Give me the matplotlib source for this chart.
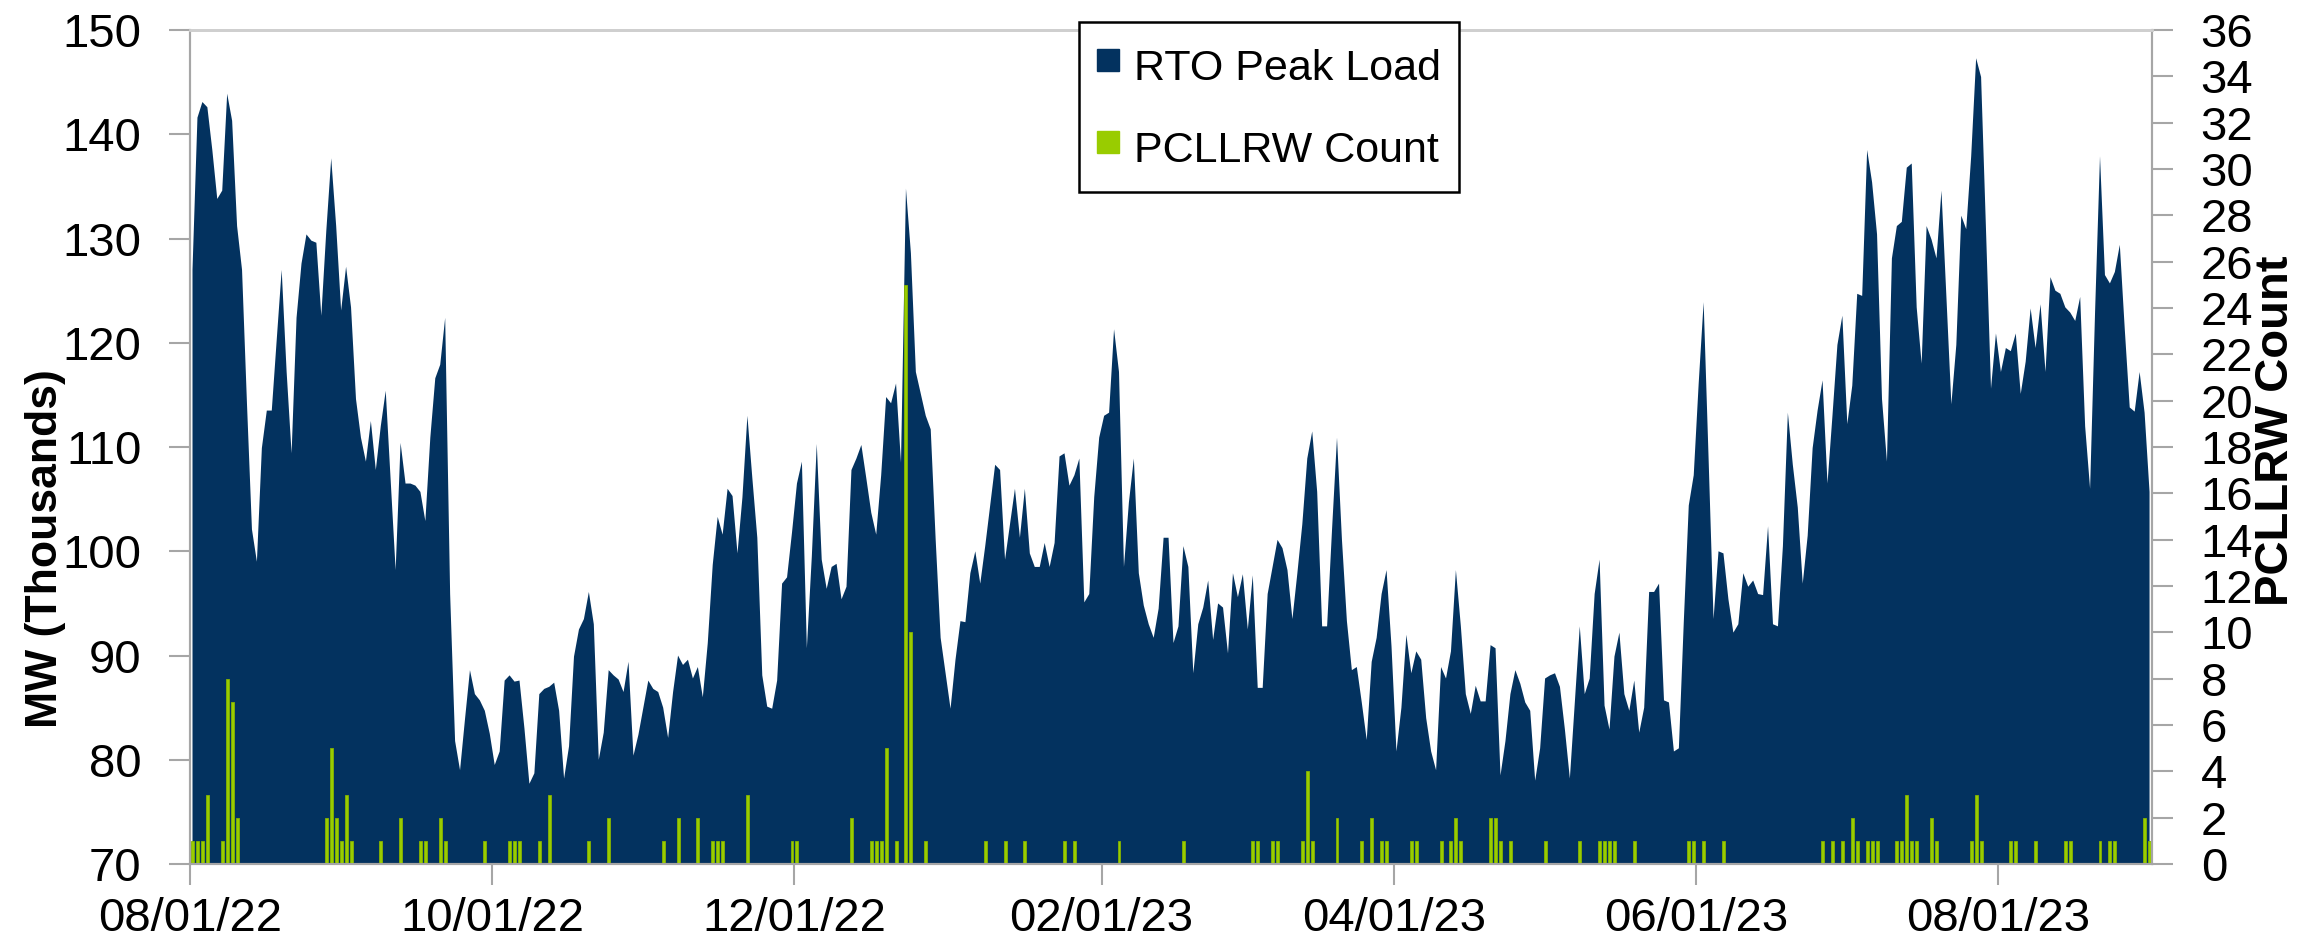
import numpy as np
import pandas as pd
import matplotlib
matplotlib.use('Agg')
import matplotlib.pyplot as plt
import matplotlib.dates as mdates
from matplotlib.lines import Line2D

plt.rcParams['font.family'] = ['Liberation Sans', 'DejaVu Sans']

start_date = '2022-08-01'

# daily RTO peak load (MW, thousands), 08/01/22 .. 08/31/23
rto_peak_load = [
    127.0, 141.6, 143.1, 142.6, 138.5, 133.8, 134.6, 143.9, 141.3, 131.2,
    127.0, 114.1, 102.1, 99.0, 109.9, 113.5, 113.5, 120.3, 127.0, 117.2,
    109.4, 122.4, 127.6, 130.4, 129.8, 129.6, 122.6, 130.7, 137.7, 131.2,
    123.1, 127.3, 123.4, 114.6, 110.9, 108.6, 112.5, 107.8, 112.0, 115.4,
    106.8, 98.2, 110.4, 106.5, 106.5, 106.3, 105.7, 102.9, 110.9, 116.6,
    117.9, 122.4, 95.9, 81.8, 79.0, 83.9, 88.6, 86.3, 85.7, 84.7,
    82.5, 79.5, 80.8, 87.6, 88.1, 87.5, 87.6, 83.0, 77.7, 78.7,
    86.3, 86.8, 87.0, 87.4, 84.7, 78.2, 81.3, 89.9, 92.5, 93.5,
    96.1, 93.0, 80.0, 82.6, 88.6, 88.1, 87.7, 86.5, 89.4, 80.4,
    82.4, 85.0, 87.6, 86.8, 86.5, 85.0, 82.1, 86.5, 90.0, 89.1,
    89.6, 87.8, 88.9, 86.0, 91.2, 98.7, 103.3, 101.6, 106.0, 105.3,
    99.8, 105.2, 113.0, 107.0, 101.3, 88.1, 85.1, 84.9, 87.6, 96.9,
    97.5, 101.8, 106.5, 108.6, 90.7, 99.5, 110.3, 99.2, 96.4, 98.5,
    98.8, 95.4, 96.6, 107.8, 108.9, 110.2, 107.0, 103.7, 101.6, 107.3,
    114.8, 114.2, 116.1, 108.5, 134.8, 128.6, 117.2, 115.1, 113.0, 111.7,
    101.1, 91.7, 88.3, 84.9, 89.6, 93.3, 93.2, 97.9, 100.0, 96.9,
    100.5, 104.4, 108.3, 107.8, 99.2, 102.6, 106.0, 101.3, 106.0, 99.8,
    98.5, 98.5, 100.8, 98.5, 100.8, 109.1, 109.4, 106.3, 107.3, 108.9,
    95.1, 95.9, 105.2, 110.9, 113.0, 113.3, 121.3, 117.2, 98.5, 104.7,
    108.9, 97.9, 94.8, 93.0, 91.7, 94.5, 101.3, 101.3, 91.2, 92.8,
    100.5, 98.5, 88.3, 93.0, 94.6, 97.2, 91.5, 95.0, 94.6, 90.2,
    97.9, 95.6, 97.8, 92.5, 97.7, 86.9, 86.9, 95.9, 98.5, 101.1,
    100.3, 98.2, 93.5, 97.9, 102.6, 108.9, 111.5, 105.7, 92.8, 92.8,
    102.1, 110.9, 101.1, 93.3, 88.6, 88.9, 85.5, 81.9, 89.4, 91.7,
    95.9, 98.2, 90.9, 80.8, 85.0, 92.0, 88.3, 90.4, 89.6, 84.0,
    80.8, 79.0, 88.9, 87.8, 90.4, 98.2, 92.8, 86.3, 84.4, 87.1,
    85.6, 85.6, 91.0, 90.7, 78.5, 81.8, 86.3, 88.6, 87.3, 85.5,
    84.7, 78.0, 81.1, 87.8, 88.1, 88.3, 87.0, 82.9, 78.2, 85.5,
    92.8, 86.3, 87.8, 95.9, 99.2, 85.2, 82.9, 89.9, 92.2, 86.3,
    84.7, 87.6, 82.6, 85.0, 96.1, 96.1, 96.9, 85.7, 85.5, 80.8,
    81.1, 93.3, 104.4, 107.3, 116.1, 123.9, 108.9, 93.5, 100.0, 99.8,
    95.4, 92.2, 93.0, 97.9, 96.6, 97.2, 95.9, 95.8, 102.4, 93.0,
    92.8, 100.5, 113.3, 108.3, 104.2, 96.9, 101.5, 109.9, 113.5, 116.4,
    106.5, 113.0, 119.8, 122.6, 112.2, 115.9, 124.7, 124.5, 138.5, 135.4,
    130.4, 114.6, 108.6, 128.1, 131.2, 131.6, 136.8, 137.2, 123.4, 118.0,
    131.2, 129.9, 128.1, 134.6, 124.4, 114.1, 119.8, 132.2, 130.9, 137.9,
    147.3, 145.5, 130.7, 115.6, 120.9, 117.2, 119.5, 119.2, 120.9, 115.1,
    118.2, 123.3, 119.5, 123.7, 117.2, 126.3, 125.0, 124.7, 123.4, 122.9,
    122.1, 124.4, 112.0, 106.0, 122.9, 137.9, 126.5, 125.7, 126.8, 129.4,
    121.3, 113.8, 113.4, 117.2, 113.3, 105.7,
]

# days (offset from 08/01/22) that had PCLLRW events, and their counts
pcllrw_day = [
    0, 1, 2, 3, 6, 7, 8, 9, 27, 28, 29, 30, 31, 32, 38, 42, 46, 47, 50, 51, 59,
    64, 65, 66, 70, 72, 80, 84, 95, 98, 102, 105, 106, 107, 112, 121, 122,
    133, 137, 138, 139, 140, 142, 144, 145, 148, 160, 164, 168, 176, 178, 187,
    200, 214, 215, 218, 219, 224, 225, 226, 231, 236, 238, 240, 241, 246, 247,
    252, 254, 255, 256, 262, 263, 264, 266, 273, 280, 284, 285, 286, 287, 291,
    302, 303, 305, 309, 329, 331, 333, 335, 336, 338, 339, 340, 344, 345, 346,
    347, 348, 351, 352, 359, 360, 361, 367, 368, 372, 378, 379, 385, 387, 388,
    394, 395,
]
pcllrw_count = [
    1, 1, 1, 3, 1, 8, 7, 2, 2, 5, 2, 1, 3, 1, 1, 2, 1, 1, 2, 1, 1,
    1, 1, 1, 1, 3, 1, 2, 1, 2, 2, 1, 1, 1, 3, 1, 1,
    2, 1, 1, 1, 5, 1, 25, 10, 1, 1, 1, 1, 1, 1, 1,
    1, 1, 1, 1, 1, 1, 4, 1, 2, 1, 2, 1, 1, 1, 1,
    1, 1, 2, 1, 2, 2, 1, 1, 1, 1, 1, 1, 1, 1, 1,
    1, 1, 1, 1, 1, 1, 1, 2, 1, 1, 1, 1, 1, 1, 3,
    1, 1, 2, 1, 1, 3, 1, 1, 1, 1, 1, 1, 1, 1, 1,
    2, 1,
]

load_color = '#03325F'
count_color = '#99CC00'
axis_grey = '#A6A6A6'

dates = pd.date_range(start_date, periods=len(rto_peak_load), freq='D')
x = dates + pd.Timedelta(hours=12)
counts = np.zeros(len(dates))
counts[pcllrw_day] = pcllrw_count

fig = plt.figure(figsize=(23.23, 9.52), dpi=100)
ax = fig.add_axes([0.0818, 0.0924, 0.8446, 0.876])
ax2 = ax.twinx()

ax.fill_between(x, 0, rto_peak_load, color=load_color, linewidth=0)
ax2.bar(x, counts, width=0.6, color=count_color, edgecolor='#86B300', linewidth=0.6)

ax.set_ylim(70, 150)
ax.set_yticks(range(70, 151, 10))
ax2.set_ylim(0, 36)
ax2.set_yticks(range(0, 37, 2))
ax.set_xlim(pd.Timestamp('2022-08-01'), pd.Timestamp('2023-09-01'))
ax.xaxis.set_major_locator(mdates.MonthLocator(bymonth=[2, 4, 6, 8, 10, 12]))
ax.xaxis.set_major_formatter(mdates.DateFormatter('%m/%d/%y'))

for a in (ax, ax2):
    for s in a.spines.values():
        s.set_color(axis_grey)
        s.set_linewidth(1.5)
    a.spines['top'].set_color('#CFCFCF')
    a.spines['top'].set_linewidth(2)
    a.tick_params(axis='both', colors=axis_grey, labelcolor='black',
                  length=15, width=1.5, labelsize=34, direction='out')
ax.tick_params(axis='y', pad=20)
ax2.tick_params(axis='y', pad=20)
ax.tick_params(axis='x', pad=9)

ax.set_ylabel('MW (Thousands)', fontsize=32, fontweight='bold')
ax.yaxis.set_label_coords(-0.063, 0.378)
ax2.set_ylabel('PCLLRW Count', fontsize=34, fontweight='bold')
ax2.yaxis.set_label_coords(1.052, 0.52)

handles = [
    Line2D([], [], marker='s', linestyle='none', markersize=16, color=load_color),
    Line2D([], [], marker='s', linestyle='none', markersize=16, color=count_color),
]
leg = fig.legend(handles, ['RTO Peak Load', 'PCLLRW Count'],
                 loc='upper left', bbox_to_anchor=(0.4645, 0.977),
                 fontsize=31, frameon=True, fancybox=False, framealpha=1,
                 handlelength=0.5, handleheight=1.5, handletextpad=0.35,
                 labelspacing=0.68, borderpad=0.42, borderaxespad=0)
leg.get_frame().set_edgecolor('black')
leg.get_frame().set_linewidth(1.8)

fig.savefig('out.png', dpi=100)
